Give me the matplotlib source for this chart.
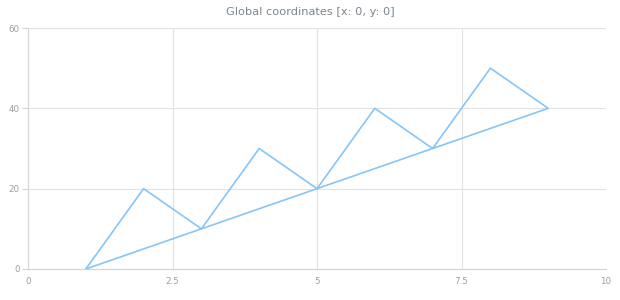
import matplotlib
matplotlib.use("Agg")
import matplotlib.pyplot as plt

x_values = [1, 2, 3, 4, 5, 6, 7, 8, 9, 1]
y_values = [0, 20, 10, 30, 20, 40, 30, 50, 40, 0]
x_ticks = [0, 2.5, 5, 7.5, 10]
x_tick_labels = ["0", "2.5", "5", "7.5", "10"]
y_ticks = [0, 20, 40, 60]
title = "Global coordinates [x: 0, y: 0]"

fig = plt.figure(figsize=(6.2, 3.0), dpi=100)
ax = fig.add_axes([28/620, 31/300, 578/620, 241/300])
ax.plot(x_values, y_values, color="#86c5f8", linewidth=1.2)
ax.set_xlim(0, 10)
ax.set_ylim(0, 60)
ax.set_xticks(x_ticks)
ax.set_xticklabels(x_tick_labels)
ax.set_yticks(y_ticks)
ax.grid(True, color="#e2e2e2", linewidth=0.8)
ax.set_axisbelow(True)
for s in ["top", "right"]:
    ax.spines[s].set_visible(False)
for s in ["left", "bottom"]:
    ax.spines[s].set_color("#d4d4d4")
    ax.spines[s].set_linewidth(0.8)
ax.tick_params(axis="x", length=0, pad=6, labelsize=6.3, labelcolor="#9e9e9e")
ax.tick_params(axis="y", length=4, color="#d4d4d4", pad=2, labelsize=6.3, labelcolor="#9e9e9e")
fig.text(0.5, 1 - 12/300, title, ha="center", va="center", fontsize=8.2, color="#7c868e")
fig.savefig("out.png", dpi=100)
